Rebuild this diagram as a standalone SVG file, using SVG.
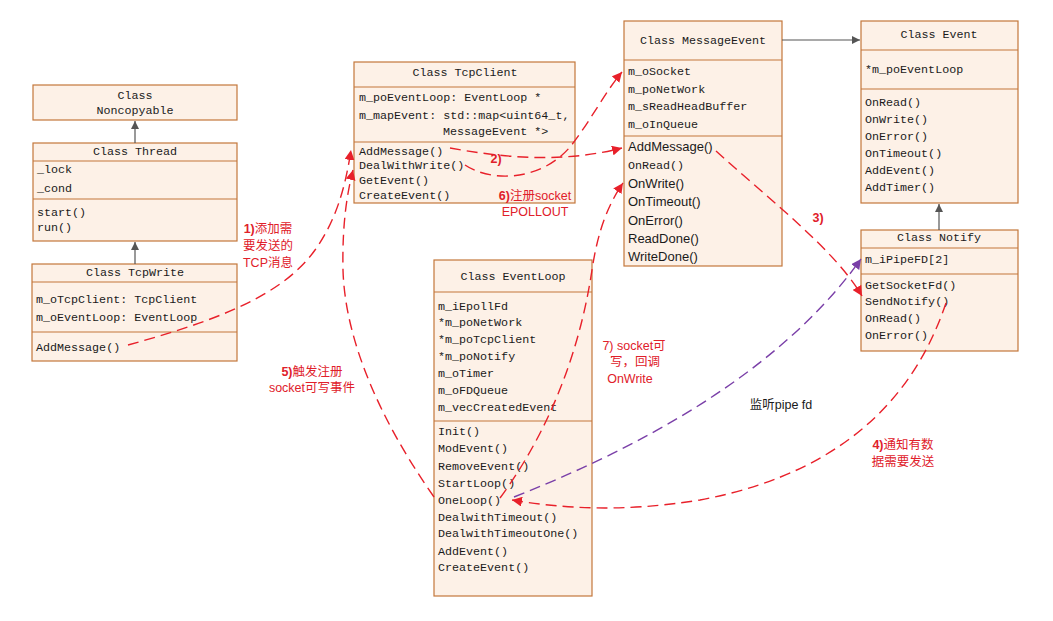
<svg xmlns="http://www.w3.org/2000/svg" width="1053" height="621" viewBox="0 0 1053 621">
<style>
.box{fill:#fdf1e7;stroke:#c4773b;stroke-width:1.2}
.div{stroke:#c4773b;stroke-width:1.2}
.t{font-family:"Liberation Mono","DejaVu Sans Mono",monospace;font-size:11.7px;fill:#1a1a1a}
.h{text-anchor:middle}
.s{font-family:"Liberation Sans",Arial,sans-serif;font-size:13px;fill:#1a1a1a}
.lbl{font-family:"Liberation Sans","Noto Sans CJK SC",sans-serif;font-size:12.5px;fill:#e0202a;text-anchor:middle}
.b{font-weight:bold}
.red{fill:none;stroke:#e8202a;stroke-width:1.4;stroke-dasharray:11 6}
.pur{fill:none;stroke:#7a3fa8;stroke-width:1.4;stroke-dasharray:11 6}
.inh{fill:none;stroke:#555;stroke-width:1.2}
</style>
<defs>
<marker id="ag" viewBox="0 0 10 10" refX="10" refY="5" markerWidth="8" markerHeight="8" markerUnits="userSpaceOnUse" orient="auto"><path d="M0,0 L10,5 L0,10 z" fill="#555"/></marker>
<marker id="ar" viewBox="0 0 10 10" refX="10" refY="5" markerWidth="10" markerHeight="10" markerUnits="userSpaceOnUse" orient="auto"><path d="M0,0 L10,5 L0,10 z" fill="#e8202a"/></marker>
<marker id="ap" viewBox="0 0 10 10" refX="10" refY="5" markerWidth="10" markerHeight="10" markerUnits="userSpaceOnUse" orient="auto"><path d="M0,0 L10,5 L0,10 z" fill="#7a3fa8"/></marker>
</defs>
<rect width="1053" height="621" fill="#fff"/>

<g id="noncopyable">
<rect class="box" x="33" y="85" width="204" height="35"/>
<text class="t h" x="135" y="99">Class</text>
<text class="t h" x="135" y="114">Noncopyable</text>
</g>

<g id="thread">
<rect class="box" x="33" y="143" width="204" height="98"/>
<line class="div" x1="33" y1="161" x2="237" y2="161"/>
<line class="div" x1="33" y1="199" x2="237" y2="199"/>
<text class="t h" x="135" y="155">Class Thread</text>
<text class="t" x="37" y="173">_lock</text>
<text class="t" x="37" y="192">_cond</text>
<text class="t" x="37" y="216">start()</text>
<text class="t" x="37" y="231">run()</text>
</g>

<g id="tcpwrite">
<rect class="box" x="32" y="264" width="205" height="97"/>
<line class="div" x1="32" y1="282" x2="237" y2="282"/>
<line class="div" x1="32" y1="332" x2="237" y2="332"/>
<text class="t h" x="135" y="276">Class TcpWrite</text>
<text class="t" x="36" y="303">m_oTcpClient: TcpClient</text>
<text class="t" x="36" y="321">m_oEventLoop: EventLoop</text>
<text class="t" x="36" y="351">AddMessage()</text>
</g>

<g id="tcpclient">
<rect class="box" x="354" y="62" width="221" height="141"/>
<line class="div" x1="354" y1="87" x2="575" y2="87"/>
<line class="div" x1="354" y1="142" x2="575" y2="142"/>
<text class="t h" x="465" y="76">Class TcpClient</text>
<text class="t" x="359" y="101">m_poEventLoop: EventLoop *</text>
<text class="t" x="359" y="119">m_mapEvent: std::map&lt;uint64_t,</text>
<text class="t" x="443" y="135">MessageEvent *&gt;</text>
<text class="t" x="359" y="155">AddMessage()</text>
<text class="t" x="359" y="169">DealWithWrite()</text>
<text class="t" x="359" y="184">GetEvent()</text>
<text class="t" x="359" y="199">CreateEvent()</text>
</g>

<g id="messageevent">
<rect class="box" x="624" y="21" width="158" height="245"/>
<line class="div" x1="624" y1="60" x2="782" y2="60"/>
<line class="div" x1="624" y1="136" x2="782" y2="136"/>
<text class="t h" x="703" y="44">Class MessageEvent</text>
<text class="t" x="628" y="75">m_oSocket</text>
<text class="t" x="628" y="93">m_poNetWork</text>
<text class="t" x="628" y="110">m_sReadHeadBuffer</text>
<text class="t" x="628" y="128">m_oInQueue</text>
<text class="s" x="628" y="151">AddMessage()</text>
<text class="t" x="628" y="169">OnRead()</text>
<text class="s" x="628" y="188">OnWrite()</text>
<text class="s" x="628" y="206">OnTimeout()</text>
<text class="s" x="628" y="225">OnError()</text>
<text class="s" x="628" y="243">ReadDone()</text>
<text class="s" x="628" y="261">WriteDone()</text>
</g>

<g id="event">
<rect class="box" x="861" y="21" width="157" height="182"/>
<line class="div" x1="861" y1="50" x2="1018" y2="50"/>
<line class="div" x1="861" y1="89" x2="1018" y2="89"/>
<text class="t h" x="939" y="38">Class Event</text>
<text class="t" x="865" y="73">*m_poEventLoop</text>
<text class="t" x="865" y="106">OnRead()</text>
<text class="t" x="865" y="123">OnWrite()</text>
<text class="t" x="865" y="140">OnError()</text>
<text class="t" x="865" y="157">OnTimeout()</text>
<text class="t" x="865" y="174">AddEvent()</text>
<text class="t" x="865" y="191">AddTimer()</text>
</g>

<g id="notify">
<rect class="box" x="861" y="230" width="157" height="121"/>
<line class="div" x1="861" y1="248" x2="1018" y2="248"/>
<line class="div" x1="861" y1="274" x2="1018" y2="274"/>
<text class="t h" x="939" y="241">Class Notify</text>
<text class="t" x="865" y="263">m_iPipeFD[2]</text>
<text class="t" x="865" y="289">GetSocketFd()</text>
<text class="t" x="865" y="305">SendNotify()</text>
<text class="t" x="865" y="322">OnRead()</text>
<text class="t" x="865" y="339">OnError()</text>
</g>

<g id="eventloop">
<rect class="box" x="434" y="260" width="158" height="336"/>
<line class="div" x1="434" y1="292" x2="592" y2="292"/>
<line class="div" x1="434" y1="421" x2="592" y2="421"/>
<text class="t h" x="513" y="280">Class EventLoop</text>
<text class="t" x="438" y="310">m_iEpollFd</text>
<text class="t" x="438" y="326">*m_poNetWork</text>
<text class="t" x="438" y="343">*m_poTcpClient</text>
<text class="t" x="438" y="360">*m_poNotify</text>
<text class="t" x="438" y="377">m_oTimer</text>
<text class="t" x="438" y="394">m_oFDQueue</text>
<text class="t" x="438" y="411">m_vecCreatedEvent</text>
<text class="t" x="438" y="435">Init()</text>
<text class="t" x="438" y="452">ModEvent()</text>
<text class="t" x="438" y="470">RemoveEvent()</text>
<text class="t" x="438" y="487">StartLoop()</text>
<text class="t" x="438" y="504">OneLoop()</text>
<text class="t" x="438" y="521">DealwithTimeout()</text>
<text class="t" x="438" y="537">DealwithTimeoutOne()</text>
<text class="t" x="438" y="555">AddEvent()</text>
<text class="t" x="438" y="571">CreateEvent()</text>
</g>

<g id="connectors">
<line class="inh" x1="135" y1="143" x2="135" y2="121" marker-end="url(#ag)"/>
<line class="inh" x1="135" y1="264" x2="135" y2="242" marker-end="url(#ag)"/>
<line class="inh" x1="782" y1="40" x2="860" y2="40" marker-end="url(#ag)"/>
<line class="inh" x1="939" y1="230" x2="939" y2="204" marker-end="url(#ag)"/>
<path class="red" d="M128,345 C200,325 280,300 315,250 C335,222 345,190 351,150" marker-end="url(#ar)"/>
<path class="red" d="M434,497 C380,420 345,340 343,270 C342,220 348,190 353,170" marker-end="url(#ar)"/>
<path class="red" d="M450,148 C500,157 560,164 622,148" marker-end="url(#ar)"/>
<path class="red" d="M465,165 C490,182 540,182 570,147 C590,122 605,92 622,72" marker-end="url(#ar)"/>
<path class="red" d="M500,498 C550,430 580,350 592,270 C598,230 608,205 623,183" marker-end="url(#ar)"/>
<path class="red" d="M716,151 C770,200 835,250 862,296" marker-end="url(#ar)"/>
<path class="red" d="M946,303 C920,380 860,470 700,500 C620,513 560,508 512,500" marker-end="url(#ar)"/>
<path class="pur" d="M514,497 Q760,400 861,259" marker-end="url(#ap)"/>
</g>

<g id="labels">
<text class="lbl" x="268" y="233"><tspan class="b">1)</tspan>添加需</text>
<text class="lbl" x="268" y="250">要发送的</text>
<text class="lbl" x="268" y="267">TCP消息</text>
<text class="lbl b" x="496" y="163">2)</text>
<text class="lbl" x="535" y="200"><tspan class="b">6)</tspan>注册socket</text>
<text class="lbl" x="535" y="216">EPOLLOUT</text>
<text class="lbl b" x="818" y="222">3)</text>
<text class="lbl" x="903" y="449"><tspan class="b">4)</tspan>通知有数</text>
<text class="lbl" x="903" y="466">据需要发送</text>
<text class="lbl" x="312" y="376"><tspan class="b">5)</tspan>触发注册</text>
<text class="lbl" x="312" y="392">socket可写事件</text>
<text class="lbl" x="634" y="350">7) socket可</text>
<text class="lbl" x="635" y="366">写，回调</text>
<text class="lbl" x="630" y="383">OnWrite</text>
<text class="lbl" x="781" y="409" style="fill:#1a1a1a">监听pipe fd</text>
</g>
</svg>
